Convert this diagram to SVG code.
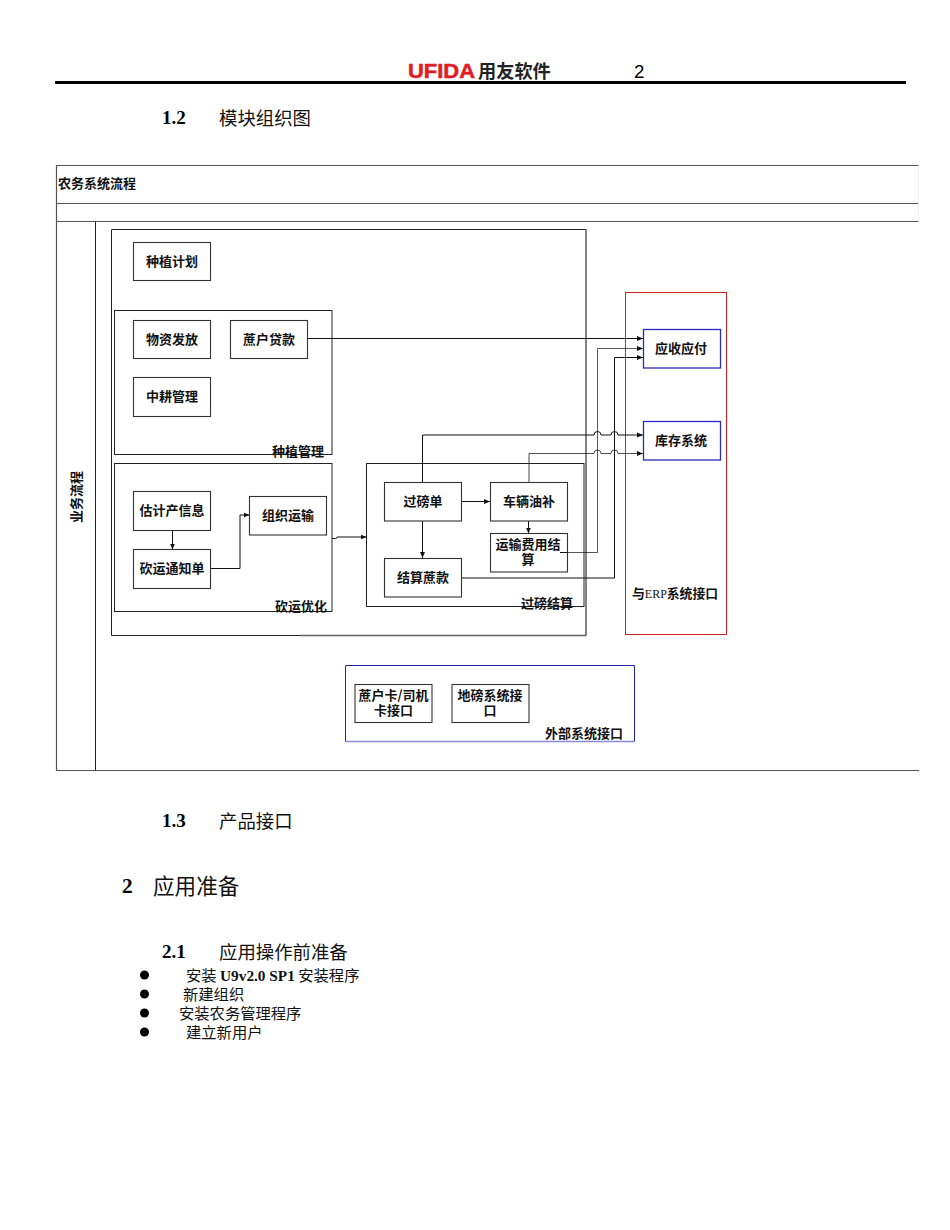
<svg xmlns="http://www.w3.org/2000/svg" width="950" height="1230" viewBox="0 0 950 1230">
<defs>
<marker id="arr" markerUnits="userSpaceOnUse" markerWidth="7" markerHeight="6" refX="6" refY="3" orient="auto"><path d="M0 0.500L6 3L0 5.500Z" fill="#111"/></marker>
</defs>
<style>
text{font-family:"Liberation Serif","Noto Sans CJK SC",serif;fill:#000}
.n{font-size:13px;font-weight:700;text-anchor:middle;font-family:"Noto Sans CJK SC",sans-serif;fill:#111}
.g{font-size:13px;font-weight:700;font-family:"Noto Sans CJK SC",sans-serif;fill:#111}
.h{font-size:19px;font-weight:700}
.hc{font-size:18.4px;font-family:"Noto Sans CJK SC",serif;fill:#111}
.b{font-size:15.3px;font-family:"Noto Sans CJK SC",serif;fill:#111}
.box{fill:#fff;stroke:#333;stroke-width:1.1}
.grp{fill:none;stroke:#222;stroke-width:1}
.frm{fill:none;stroke:#555;stroke-width:1.2}
.blue{fill:#fff;stroke:#2a2ac0;stroke-width:1.3}
.c{fill:none;stroke:#111;stroke-width:1}
.a{marker-end:url(#arr)}
</style>
<rect width="950" height="1230" fill="#fff"/>
<g id="header">
<rect x="55" y="81" width="851" height="3" fill="#000"/>
<text x="408" y="78" textLength="67" lengthAdjust="spacingAndGlyphs" style="font-family:'Liberation Sans',sans-serif;font-size:20px;font-weight:700;fill:#e01c24;stroke:#e01c24;stroke-width:.5">UFIDA</text>
<text x="478" y="78" style="font-family:'Noto Sans CJK SC',sans-serif;font-size:18.2px;font-weight:700;fill:#222">用友软件</text>
<text x="634" y="78" style="font-family:'Liberation Sans',sans-serif;font-size:18.67px">2</text>
</g>
<g id="heading-1-2"><text class="h" x="162" y="124">1.2</text><text class="hc" x="219" y="124.500">模块组织图</text></g>
<g id="frame">
<path class="frm" d="M919 165.500H56.500V770.500H919M56.500 203.500H919M56.500 221.500H919"/>
<path class="grp" d="M95.500 221.500V770.500"/>
<path d="M918.500 165.500V221.500" fill="none" stroke="#f0f0f0"/>
<text class="g" x="58" y="187.500">农务系统流程</text>
<text class="n" transform="translate(81,497) rotate(-90)">业务流程</text>
</g>
<g id="zone-main"><path class="grp" d="M586 635.500H111.500V229.500H586"/><path d="M586 229V636M586 635.500H300" fill="none" stroke="#666" stroke-width="1.600"/></g>
<g id="group-plant"><rect class="grp" x="114.500" y="310.500" width="217.500" height="144" stroke="#444"/><text class="g" x="272" y="456">种植管理</text></g>
<g id="group-cut"><rect class="grp" x="114.500" y="463.500" width="217.500" height="148"/><text class="g" x="275" y="611">砍运优化</text></g>
<g id="group-weigh"><rect class="grp" x="366.500" y="463.500" width="217.500" height="143"/><text class="g" x="521" y="608">过磅结算</text></g>
<g id="group-erp"><rect x="625.500" y="292.500" width="101" height="342" fill="none" stroke="#d02020"/><text class="g" x="632" y="598" style="font-size:12.800px">与<tspan font-family="Liberation Serif" font-weight="400" font-size="12">ERP</tspan>系统接口</text></g>
<g id="group-ext"><path d="M345.500 741.500V665.500H634.500V741.500" fill="none" stroke="#2222bb"/><path d="M345.500 741.500H634.500" fill="none" stroke="#8888dd" stroke-width="1.300"/><text class="g" x="545" y="738">外部系统接口</text></g>
<g id="connectors">
<path class="c a" d="M308 338.500H643"/>
<path class="c a" d="M560 552.500H597.500V348.500H643" stroke-opacity=".7"/>
<path class="c a" d="M462 578H614.500V357.500H643"/>
<path class="c a" d="M422.500 482V435H594a3.500 3.500 0 0 1 7 0H611a3.500 3.500 0 0 1 7 0H643" />
<path class="c a" d="M529 482V453.500H594a3.500 3.500 0 0 1 7 0H611a3.500 3.500 0 0 1 7 0H643" stroke-opacity=".75"/>
<path class="c a" d="M462 501.500H490"/>
<path class="c a" d="M528.500 521V533.500"/>
<path class="c a" d="M422.500 521V558"/>
<path class="c a" d="M172.500 530.500V549.500"/>
<path class="c a" d="M211 568.500H240V515H249.500"/>
<path class="c a" d="M332 538.500H335.500a1.500 1.500 0 0 0 1.500 -1.500H366.500"/>
</g>
<g id="n1"><rect class="box" x="133.500" y="242.500" width="77" height="38"/><text class="n" x="172" y="266">种植计划</text></g>
<g id="n2"><rect class="box" x="133.500" y="320.500" width="77" height="38"/><text class="n" x="172" y="344">物资发放</text></g>
<g id="n3"><rect class="box" x="230.500" y="320.500" width="77" height="38"/><text class="n" x="269" y="344">蔗户贷款</text></g>
<g id="n4"><rect class="box" x="133.500" y="377.500" width="77" height="39"/><text class="n" x="172" y="401">中耕管理</text></g>
<g id="n5"><rect class="box" x="133.500" y="491.500" width="77" height="39"/><text class="n" x="172" y="515">估计产信息</text></g>
<g id="n6"><rect class="box" x="133.500" y="549.500" width="77" height="39"/><text class="n" x="172" y="573">砍运通知单</text></g>
<g id="n7"><rect class="box" x="249.500" y="496.500" width="77" height="38.500"/><text class="n" x="288" y="519.500">组织运输</text></g>
<g id="n8"><rect class="box" x="384.500" y="482.500" width="77" height="38.500"/><text class="n" x="423" y="506">过磅单</text></g>
<g id="n9"><rect class="box" x="490.500" y="482.500" width="77" height="38.500"/><text class="n" x="529" y="506">车辆油补</text></g>
<g id="n10"><rect class="box" x="490.500" y="533.500" width="77" height="38.500"/><path class="c" d="M560 552.500H567.500"/><text class="n" x="528" y="549"><tspan x="528">运输费用结</tspan><tspan x="528" dy="15">算</tspan></text></g>
<g id="n11"><rect class="box" x="384.500" y="558.500" width="77" height="38.500"/><text class="n" x="423" y="582">结算蔗款</text></g>
<g id="n12"><rect class="blue" x="643.500" y="329.500" width="77" height="38.500"/><text class="n" x="681" y="353">应收应付</text></g>
<g id="n13"><rect class="blue" x="643.500" y="421.500" width="77" height="38.500"/><text class="n" x="681" y="445">库存系统</text></g>
<g id="n14"><rect class="box" x="355" y="684.500" width="77" height="38"/><text class="n" x="393.500" y="700"><tspan x="393.500">蔗户卡/司机</tspan><tspan x="393.500" dy="14.500">卡接口</tspan></text></g>
<g id="n15"><rect class="box" x="452" y="684.500" width="77" height="38"/><text class="n" x="490" y="700"><tspan x="490">地磅系统接</tspan><tspan x="490" dy="14.500">口</tspan></text></g>
<g id="heading-1-3"><text class="h" x="162" y="827">1.3</text><text class="hc" x="219" y="827.500">产品接口</text></g>
<g id="heading-2"><text x="122" y="893" style="font-size:21.33px;font-weight:700">2</text><text x="153" y="893.500" style="font-size:21.6px;font-family:'Noto Sans CJK SC',serif;fill:#111">应用准备</text></g>
<g id="heading-2-1"><text class="h" x="162" y="958">2.1</text><text class="hc" x="219" y="958.500">应用操作前准备</text></g>
<g id="list">
<circle cx="144.500" cy="975" r="4.500"/><circle cx="144.500" cy="994" r="4.500"/><circle cx="144.500" cy="1013" r="4.500"/><circle cx="144.500" cy="1032" r="4.500"/>
<text class="b" x="186" y="981">安装 <tspan font-family="Liberation Serif" font-weight="700">U9v2.0 SP1</tspan> 安装程序</text>
<text class="b" x="183" y="1000">新建组织</text>
<text class="b" x="179" y="1018.500">安装农务管理程序</text>
<text class="b" x="186" y="1038">建立新用户</text>
</g>
</svg>
